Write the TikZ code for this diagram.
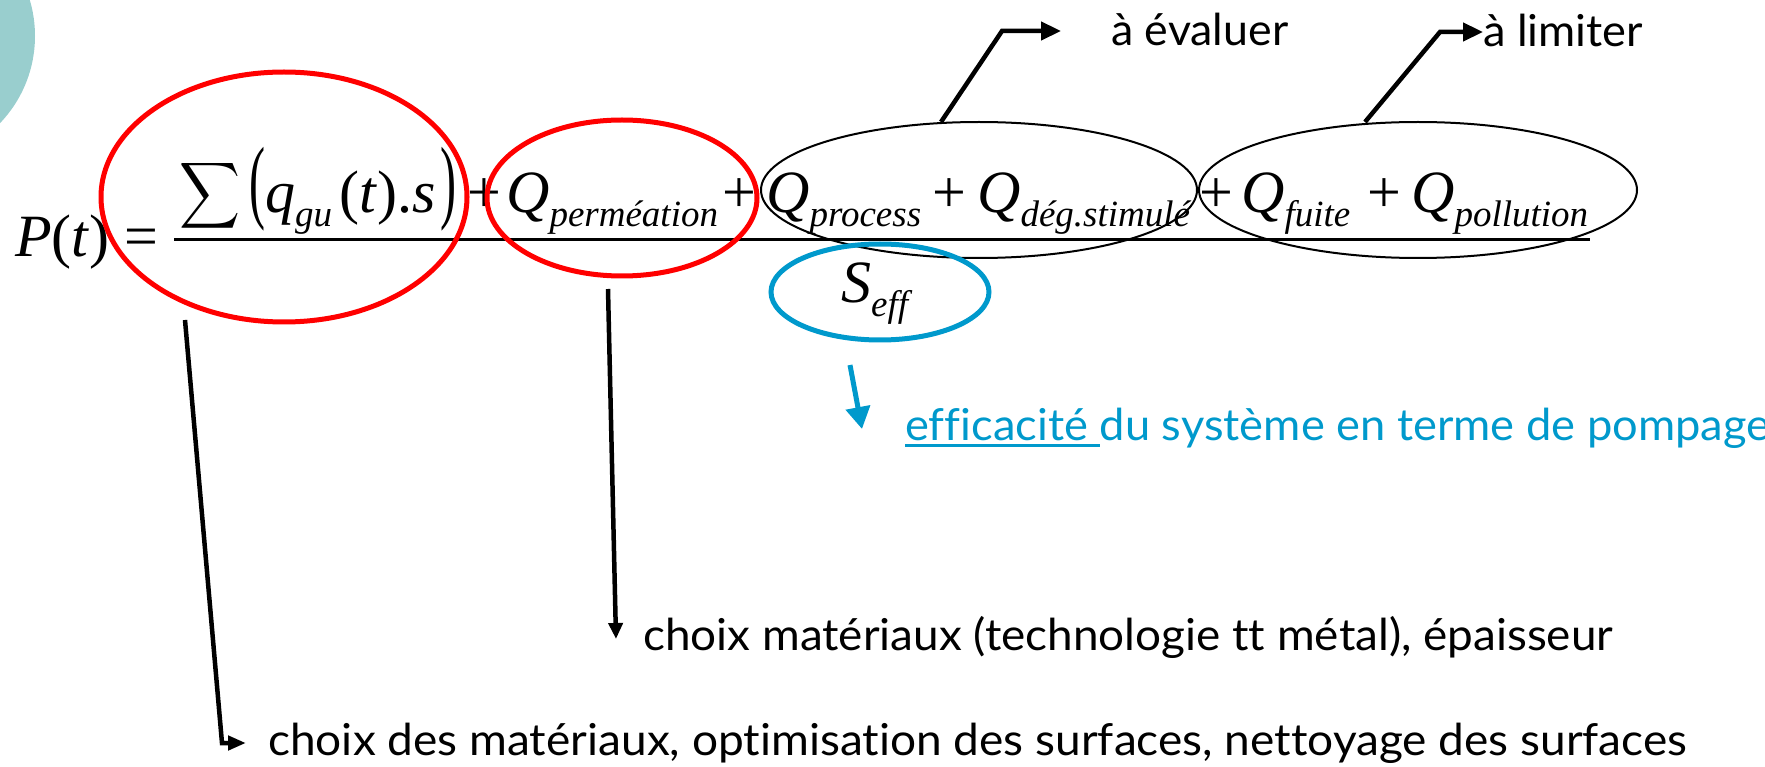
\documentclass[tikz,border=0pt]{standalone}
\usepackage{graphicx}
\usepackage{fontspec}
\setmainfont{Liberation Serif}
\newfontfamily\labfont[Ligatures=NoCommon]{Lato}
\usetikzlibrary{shapes.geometric, arrows.meta}
\definecolor{tealbg}{RGB}{153,206,206}
\definecolor{myblue}{RGB}{0,153,204}
\definecolor{myred}{RGB}{255,0,0}
\newcommand\eqf{\fontsize{60}{66}\selectfont}
\newcommand\subf{\fontsize{37}{40}\selectfont\itshape}
\newcommand\Qterm[1]{\textit{Q}\raisebox{-14pt}{\subf #1}}
\newcommand\labf{\labfont\fontsize{44}{48}\selectfont}
\newcommand\fitw[2]{\resizebox{#1}{\height}{#2}}
\newcommand\myul[1]{\setbox0\hbox{#1}\rlap{\rule[-7pt]{\wd0}{3pt}}\box0}
\begin{document}
\begin{tikzpicture}[x=1pt,y=-1pt,
  eq/.style={inner sep=0pt, anchor=base west, font=\eqf},
  lab/.style={inner sep=0pt, anchor=base west, font=\labf},
  big/.style={inner sep=0pt, anchor=north west},
  redell/.style={draw=myred, line width=5pt, ellipse, inner sep=0pt},
  blkell/.style={draw=black, line width=2pt, ellipse, inner sep=0pt},
  bluell/.style={draw=myblue, line width=5pt, ellipse, inner sep=0pt},
  arr/.style={draw=black, line width=4.5pt},
  barr/.style={draw=myblue, line width=5pt}
]
\useasboundingbox (0,0) rectangle (1765,767);
\begin{scope}
\clip (0,0) rectangle (1765,767);
\fill[tealbg] (-91,36) circle[radius=126];
\end{scope}

% equation
\node[eq] (P) at (15,257) {\textit{P}(\textit{t})};
\node[eq] (eqs) at (124,257) {=};
\node[big] (sum) at (179,159) {\resizebox*{61pt}{74pt}{$\displaystyle\sum$}};
\node[big] (lp) at (249,147) {\resizebox*{16pt}{84pt}{(}};
\node[eq] (q) at (265,213) {\textit{q}\raisebox{-14pt}{\subf gu}};
\node[eq] (ts) at (339,213) {(\textit{t}).\textit{s}};
\node[big] (rp) at (440,147) {\resizebox*{16pt}{84pt}{)}};
\node[eq] (pl1) at (467,213) {+};
\node[eq] (Qperm) at (506,213) {\Qterm{perméation}};
\node[eq] (pl2) at (722,213) {+};
\node[eq] (Qproc) at (766,213) {\Qterm{process}};
\node[eq] (pl3) at (932,213) {+};
\node[eq] (Qdeg) at (977,213) {\Qterm{dég.stimulé}};
\node[eq] (pl4) at (1199,213) {+};
\node[eq] (Qfuite) at (1241,213) {\Qterm{fuite}};
\node[eq] (pl5) at (1367,213) {+};
\node[eq] (Qpoll) at (1411,213) {\Qterm{pollution}};
\node[eq] (S) at (841,303) {\textit{S}\raisebox{-14pt}{\subf eff}};
\coordinate (fl1) at (174,240);
\coordinate (fl2) at (1590,240);
\draw[line width=3pt] (fl1) -- (fl2);

% ellipses
\node[redell, minimum width=366pt, minimum height=250pt] (r1) at (284,197) {};
\node[redell, minimum width=270pt, minimum height=156pt] (r2) at (622,198) {};
\node[blkell, minimum width=436pt, minimum height=136pt] (b1) at (979,190) {};
\node[blkell, minimum width=438pt, minimum height=136pt] (b2) at (1418,190) {};
\node[bluell, minimum width=218pt, minimum height=96pt] (bl) at (880,292) {};

% labels
\node[lab] (eval) at (1111,46) {\fitw{177pt}{à évaluer}};
\node[lab] (limit) at (1483,47) {\fitw{160pt}{à limiter}};
\node[lab, text=myblue] (eff) at (905,440) {\fitw{865pt}{\myul{efficacité }du système en terme de pompage}};
\node[lab] (mat2) at (643,650) {\fitw{970pt}{choix matériaux (technologie tt métal), épaisseur}};
\node[lab] (mat1) at (268,755) {\fitw{1419pt}{choix des matériaux, optimisation des surfaces, nettoyage des surfaces}};

% connectors
\coordinate (a1s) at (185,320);
\coordinate (a1b) at (222,743);
\coordinate (a1e) at (246,743);
\draw[arr, -{Triangle[length=18pt,width=14pt]}] (a1s) -- (a1b) -- (a1e);
\coordinate (a2s) at (608,289);
\coordinate (a2e) at (616,639);
\draw[arr, -{Triangle[length=16pt,width=14pt]}] (a2s) -- (a2e);
\coordinate (a3s) at (850,365);
\coordinate (a3e) at (862,429);
\draw[barr, -{Triangle[length=22pt,width=24pt]}] (a3s) -- (a3e);
\coordinate (a4s) at (941,122);
\coordinate (a4b) at (1002,31);
\coordinate (a4e) at (1061,31);
\draw[arr, -{Triangle[length=20pt,width=18pt]}] (a4s) -- (a4b) -- (a4e);
\coordinate (a5s) at (1365,122);
\coordinate (a5b) at (1440,32);
\coordinate (a5e) at (1483,32);
\draw[arr, -{Triangle[length=20pt,width=18pt]}] (a5s) -- (a5b) -- (a5e);
\end{tikzpicture}
\end{document}
